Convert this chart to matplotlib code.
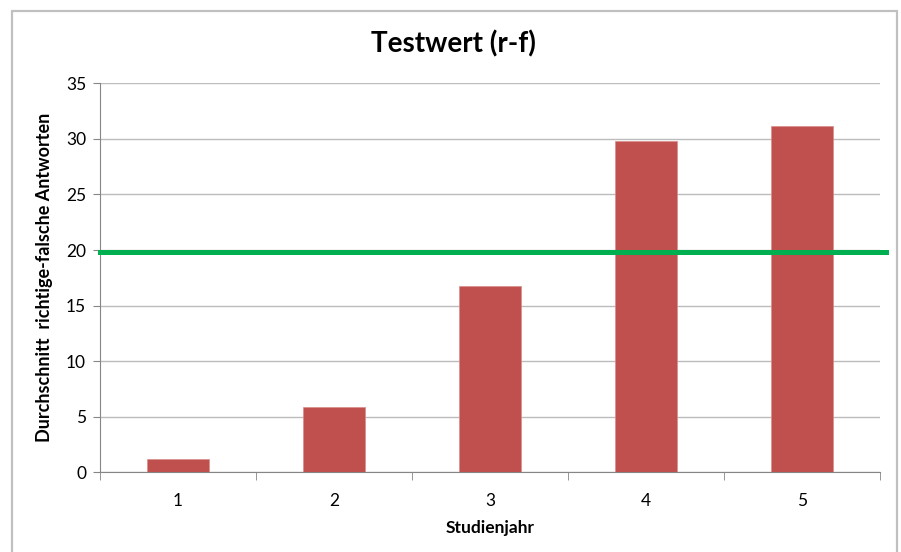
import matplotlib.pyplot as plt
from matplotlib.patches import Rectangle

# data
jahre = ["1", "2", "3", "4", "5"]
werte = [1.2, 5.9, 16.8, 29.8, 31.2]
grenze = 19.85

plt.rcParams['font.family'] = ['Lato', 'DejaVu Sans']

fig = plt.figure(figsize=(9.01, 5.52), dpi=100)
ax = fig.add_axes([0.111, 0.1444, 0.8657, 0.7047])

# outer chart border like the office chart frame
fig.patches.append(Rectangle((12 / 901, -0.05), (897 - 12) / 901, 1.05 - 11 / 552,
                             transform=fig.transFigure, fill=False,
                             edgecolor='#c0c0c0', linewidth=1.6))

x = list(range(len(jahre)))
ax.bar(x, werte, width=0.4, color='#C0504D', edgecolor='#d98c8a', linewidth=0.5, zorder=3)

# green reference line, a bit longer than the plot area
ax.axhline(grenze, xmin=0, xmax=1.008, color='#00B050', linewidth=3.6, clip_on=False, zorder=4)

ax.set_xlim(-0.5, len(jahre) - 0.5)
ax.set_ylim(0, 35)
ax.set_yticks(range(0, 36, 5))
ax.set_xticks(x)
ax.set_xticklabels(jahre)
ax.set_xticks([i - 0.5 for i in range(len(jahre) + 1)], minor=True)
ax.tick_params(axis='x', which='major', length=0, pad=15, labelsize=12.5)
ax.tick_params(axis='x', which='minor', length=6, color='#868686', direction='out')
ax.tick_params(axis='y', length=5, color='#868686', labelsize=12.5, pad=5)

ax.grid(axis='y', color='#bcbcbc', linewidth=1, zorder=0)
for s in ['top', 'right']:
    ax.spines[s].set_visible(False)
ax.spines['left'].set_color('#868686')
ax.spines['bottom'].set_color('#868686')

fig.text(0.503, 0.92, "Testwert (r-f)", fontsize=20, fontweight='bold', ha='center', va='center')
ax.set_xlabel("Studienjahr", fontsize=12.5, fontweight='bold', labelpad=8)
ax.set_ylabel("Durchschnitt  richtige-falsche Antworten", fontsize=13, fontweight='bold', labelpad=9)

fig.savefig("out.png", dpi=100)
